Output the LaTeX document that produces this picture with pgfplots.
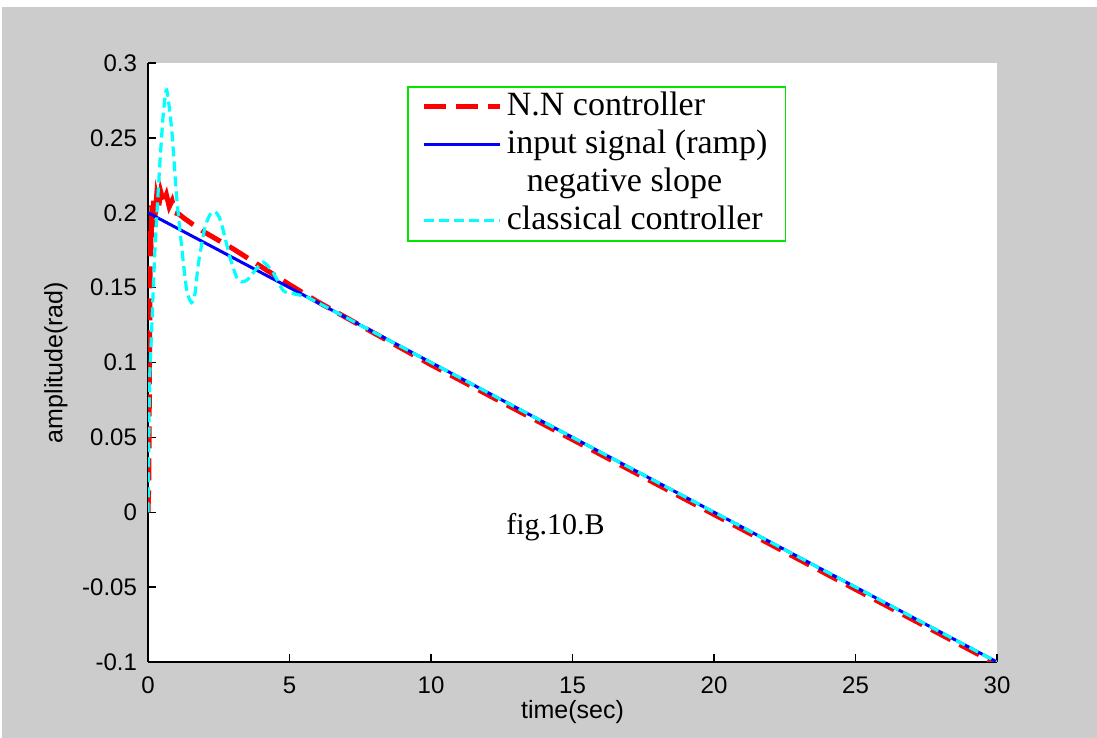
\documentclass[border=0pt]{standalone}
\usepackage{fontspec}
\setmainfont{Liberation Serif}
\setsansfont{Liberation Sans}
\usepackage{pgfplots}
\pgfplotsset{compat=1.18}
\definecolor{bg}{RGB}{204,204,204}
\definecolor{nnred}{RGB}{255,0,0}
\definecolor{inblue}{RGB}{0,0,255}
\definecolor{clcyan}{RGB}{0,255,255}
\definecolor{lgreen}{RGB}{0,230,0}
\begin{document}
\begin{tikzpicture}
\fill[white] (0,0) rectangle (548.5pt,369pt);
\fill[bg] (1pt,0) rectangle (548.5pt,365.5pt);
\begin{axis}[
  at={(74pt,38pt)}, anchor=south west,
  scale only axis, width=424.5pt, height=299.5pt,
  xmin=0, xmax=30, ymin=-0.1, ymax=0.3,
  axis x line*=bottom, axis y line*=left,
  axis line style={black, line width=0.9pt, -},
  axis background/.style={fill=white},
  tick align=inside, major tick length=4pt,
  tick style={black, line width=0.7pt},
  xtick={0,5,10,15,20,25,30},
  xticklabels={0,5,10,15,20,25,30},
  ytick={-0.1,-0.05,0,0.05,0.1,0.15,0.2,0.25,0.3},
  yticklabels={-0.1,-0.05,0,0.05,0.1,0.15,0.2,0.25,0.3},
  ticklabel style={font=\sffamily\fontsize{12}{14}\selectfont},
  xticklabel style={yshift=-4pt},
  yticklabel style={xshift=-2pt},
  xlabel={time(sec)}, ylabel={amplitude(rad)},
  every axis x label/.style={at={(rel axis cs:0.5,0)}, yshift=-25pt, anchor=center, font=\sffamily\fontsize{12.5}{14}\selectfont},
  every axis y label/.style={at={(rel axis cs:0,0.5)}, xshift=-46pt, rotate=90, anchor=center, font=\sffamily\fontsize{12.5}{14}\selectfont},
  clip=true,
  legend cell align=left,
  legend image code/.code={\draw[#1] (0pt,0pt) -- (38pt,0pt);},
  legend style={at={(rel axis cs:0.305,0.9616)}, anchor=north west,
    draw=lgreen, line width=0.9pt, fill=white,
    font=\fontsize{17}{19}\selectfont, inner xsep=7pt, inner ysep=1pt,
    row sep=1pt,
    nodes={inner ysep=0.5pt, text height=13pt, text depth=4pt}},
]
\addplot[nnred, line width=2.5pt, dash pattern=on 11pt off 5pt] coordinates {
(0,0) (0.03,0.02) (0.05,0.09) (0.07,0.15) (0.09,0.19) (0.11,0.175) (0.13,0.205)
(0.16,0.19) (0.2,0.208) (0.25,0.198) (0.3,0.21) (0.37,0.203) (0.45,0.214)
(0.55,0.207) (0.65,0.212) (0.75,0.204) (0.85,0.208) (0.95,0.2) (1.1,0.199)
(1.3,0.196) (1.6,0.192) (2.0,0.187) (2.5,0.1815) (3.0,0.176) (3.5,0.170)
(4.0,0.164) (4.5,0.158) (5.0,0.152) (6.0,0.1405) (8.0,0.1195) (10,0.0985)
(15,0.0485) (20,-0.0015) (25,-0.0515) (30,-0.1015)
};
\addlegendentry{N.N controller}
\addplot[inblue, line width=1.5pt] coordinates {(0,0.2) (30,-0.1)};
\addlegendentry{input signal (ramp)}
\addlegendimage{empty legend}
\addlegendentry{\hspace{10pt}negative slope}
\addplot[clcyan, line width=1.6pt, dash pattern=on 5pt off 2.5pt, smooth, tension=0.4] coordinates {
(0,0) (0.03,0.05) (0.06,0.09) (0.13,0.122) (0.25,0.177) (0.42,0.233) (0.54,0.266)
(0.66,0.282) (0.84,0.255) (1.01,0.211) (1.19,0.177) (1.37,0.148) (1.54,0.14)
(1.66,0.146) (1.78,0.166) (2.01,0.19) (2.2,0.199) (2.37,0.2006) (2.52,0.197)
(2.66,0.188) (2.9,0.17) (3.13,0.157) (3.31,0.1539) (3.5,0.155) (3.72,0.160)
(4.07,0.167) (4.42,0.160) (4.78,0.148) (5.13,0.146) (5.6,0.1438) (6,0.14)
(8,0.12) (12,0.08) (18,0.02) (24,-0.04) (30,-0.1)
};
\addlegendentry{classical controller}
\node[font=\fontsize{15}{17}\selectfont] at (axis cs:14.4,-0.01) {fig.10.B};
\end{axis}
\pgfresetboundingbox
\path[use as bounding box] (0,0) rectangle (548.5pt,369pt);
\end{tikzpicture}
\end{document}
